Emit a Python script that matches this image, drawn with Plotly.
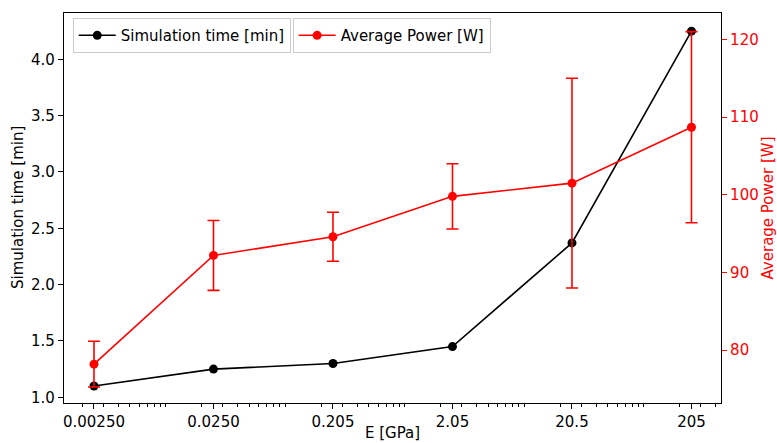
import plotly.graph_objects as go

# Data
x_values = [0.0025, 0.025, 0.25, 2.5, 25, 250]
tick_labels = ["0.00250", "0.0250", "0.205", "2.05", "20.5", "205"]
sim_time = [1.10, 1.25, 1.30, 1.45, 2.37, 4.25]
avg_power = [78.2, 92.2, 94.6, 99.8, 101.5, 108.7]
power_err = [2.95, 4.5, 3.15, 4.2, 13.5, 12.3]

FONT = "DejaVu Sans"
RED = "#ff0000"

fig = go.Figure()
fig.add_trace(go.Scatter(
    x=x_values, y=sim_time, mode="lines+markers", name="Simulation time [min]",
    line=dict(color="black", width=1.6), marker=dict(color="black", size=9),
    legend="legend", yaxis="y", showlegend=True,
))
fig.add_trace(go.Scatter(
    x=x_values, y=avg_power, mode="lines+markers", name="Average Power [W]",
    line=dict(color=RED, width=1.6), marker=dict(color=RED, size=9),
    error_y=dict(type="data", array=power_err, visible=True, color=RED,
                 thickness=1.6, width=6),
    legend="legend2", yaxis="y2", showlegend=True,
))

fig.update_layout(
    width=777, height=443,
    showlegend=True,
    margin=dict(l=64, r=56, t=13, b=40),
    paper_bgcolor="white", plot_bgcolor="white",
    font=dict(family=FONT, size=15, color="black"),
    xaxis=dict(
        type="log", range=[-2.853, 2.645], automargin=False,
        tickvals=x_values, ticktext=tick_labels,
        ticks="outside", ticklen=5, tickwidth=1.2, tickcolor="black",
        showline=True, linecolor="black", linewidth=1.2, mirror=True,
        showgrid=False, zeroline=False,
        minor=dict(ticks="outside", ticklen=3, tickwidth=0.8, tickcolor="black",
                   dtick="D1", showgrid=False),
    ),
    yaxis=dict(
        range=[0.949, 4.411], automargin=False,
        tickvals=[1.0, 1.5, 2.0, 2.5, 3.0, 3.5, 4.0],
        ticktext=["1.0", "1.5", "2.0", "2.5", "3.0", "3.5", "4.0"],
        ticks="outside", ticklen=5, tickwidth=1.2, tickcolor="black",
        showline=True, linecolor="black", linewidth=1.2, mirror=True,
        showgrid=False, zeroline=False,
    ),
    yaxis2=dict(
        overlaying="y", side="right", range=[73.2, 123.4], automargin=False,
        tickvals=[80, 90, 100, 110, 120],
        ticks="outside", ticklen=5, tickwidth=1.2, tickcolor=RED,
        tickfont=dict(color=RED, size=15),
        showline=True, linecolor="black", linewidth=1.2,
        showgrid=False, zeroline=False,
        title=dict(text="Average Power [W]",
                   font=dict(color=RED, size=15)),
    ),
    legend=dict(
        x=0.0133, y=0.987, xanchor="left", yanchor="top",
        bordercolor="#cccccc", borderwidth=1, bgcolor="rgba(255,255,255,0.8)",
        font=dict(size=15), itemwidth=37, tracegroupgap=0,
    ),
    legend2=dict(
        x=0.348, y=0.987, xanchor="left", yanchor="top",
        bordercolor="#cccccc", borderwidth=1, bgcolor="rgba(255,255,255,0.8)",
        font=dict(size=15), itemwidth=37, tracegroupgap=0,
    ),
    annotations=[
        dict(text="Simulation time [min]", textangle=-90, showarrow=False,
             xref="paper", yref="paper", x=0, y=0.5, xanchor="center",
             yanchor="middle", xshift=-46, font=dict(size=15, color="black")),
        dict(text="E [GPa]", showarrow=False,
             xref="paper", yref="paper", x=0.5, y=0, xanchor="center",
             yanchor="middle", yshift=-30, font=dict(size=15, color="black")),
    ],
)

fig.write_html("out.html")
